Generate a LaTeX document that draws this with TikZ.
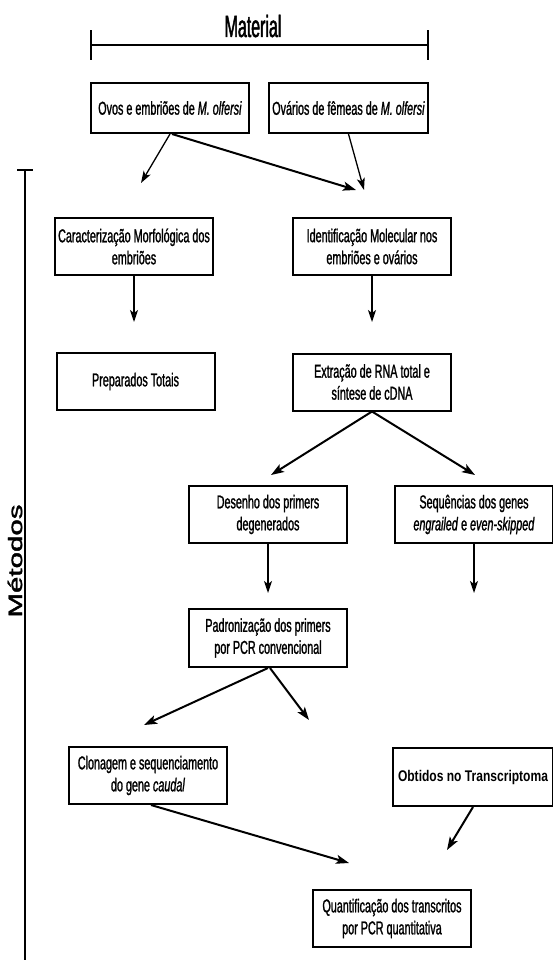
\documentclass[tikz,border=0pt]{standalone}
\usepackage{fontspec}
\setmainfont{Liberation Sans}
\newfontfamily\nar[FakeStretch=0.58,FakeBold=1.2]{Liberation Sans}
\newfontfamily\narM[FakeStretch=0.52,FakeBold=1.5]{Liberation Sans}
\newfontfamily\metf[FakeBold=1.5]{Liberation Sans}
\usetikzlibrary{arrows.meta}
\begin{document}
\begin{tikzpicture}[x=1pt,y=-1pt,
  box/.style={draw, line width=2pt, inner sep=0pt, minimum width=158pt, minimum height=57pt,
    align=center, font=\nar\fontsize{18.6}{22}\selectfont},
  thin/.style={line width=1.3pt, -{Stealth[length=12pt,width=8pt,inset=3pt]}},
  thick/.style={line width=2pt, -{Stealth[length=13pt,width=9pt,inset=3pt]}},
  bar/.style={line width=2.4pt}]
\useasboundingbox (0,0) rectangle (552,960);
% Material header
\node[anchor=base, font=\narM\fontsize{30.7}{34}\selectfont, inner sep=0pt] (mat) at (253,37) {Material};
\coordinate (ml) at (91,45);
\coordinate (mr) at (428,45);
\draw[bar] (ml) -- (mr);
\draw[bar] ([yshift=-15pt]ml) -- ([yshift=15pt]ml);
\draw[bar] ([yshift=-15pt]mr) -- ([yshift=15pt]mr);
% Metodos side bar
\coordinate (mt) at (25,170);
\coordinate (mb) at (25,965);
\draw[line width=2pt] (mt) -- (mb);
\draw[line width=2pt] ([xshift=-8pt]mt) -- ([xshift=8pt]mt);
\node[rotate=90, inner sep=0pt] (met) at (15,561) {\scalebox{1}[0.66]{\metf\fontsize{29.5}{32}\selectfont Métodos}};
% boxes
\node[box, minimum height=50pt] (ovos) at (170,108) {Ovos e embriões de \textit{M. olfersi}};
\node[box, minimum height=50pt, minimum width=159pt] (ovar) at (348.5,108) {Ovários de fêmeas de \textit{M. olfersi}};
\node[box] (carac) at (134,246.5) {Caracterização Morfológica dos\\embriões};
\node[box] (ident) at (372,246.5) {Identificação Molecular nos\\embriões e ovários};
\node[box] (prep) at (135.5,381.5) {Preparados Totais};
\node[box] (extr) at (372,382) {Extração de RNA total e\\síntese de cDNA};
\node[box] (des) at (268,514.5) {Desenho dos primers\\degenerados};
\node[box] (seq) at (474,514.5) {Sequências dos genes\\\textit{engrailed} e \textit{even-skipped}};
\node[box, minimum height=58pt] (padr) at (268,638) {Padronização dos primers\\por PCR convencional};
\node[box] (clon) at (148,775.5) {Clonagem e sequenciamento\\do gene \textit{caudal}};
\node[box, minimum height=58pt, minimum width=160pt] (obt) at (473,777) {\resizebox{150pt}{11.2pt}{\rmfamily\bfseries Obtidos no Transcriptoma}};
\node[box] (quant) at (392,918.5) {Quantificação dos transcritos\\por PCR quantitativa};
% free arrow ends
\coordinate (e1) at (141,183);
\coordinate (e2) at (356,190);
\coordinate (e3) at (364,190);
\coordinate (e4) at (134,322);
\coordinate (e5) at (372,322);
\coordinate (e6) at (271,475);
\coordinate (e7) at (475,475);
\coordinate (e8) at (268,593);
\coordinate (e9) at (474,593);
\coordinate (e10) at (144,725);
\coordinate (e11) at (309,720);
\coordinate (e12) at (349,863);
\coordinate (e13) at (447,850);
% arrows
\draw[thin] (ovos.south) -- (e1);
\draw[thick] ([xshift=2pt]ovos.south) -- (e2);
\draw[thin] (ovar.south) -- (e3);
\draw[thin] (carac.south) -- (e4);
\draw[thin] (ident.south) -- (e5);
\draw[thick] (extr.south) -- (e6);
\draw[thick] (extr.south) -- (e7);
\draw[thin] (des.south) -- (e8);
\draw[thin] (seq.south) -- (e9);
\draw[thick] (padr.south) -- (e10);
\draw[thick] ([xshift=2pt]padr.south) -- (e11);
\draw[thick] ([xshift=3pt]clon.south) -- (e12);
\draw[thick] (obt.south) -- (e13);
\end{tikzpicture}
\end{document}
